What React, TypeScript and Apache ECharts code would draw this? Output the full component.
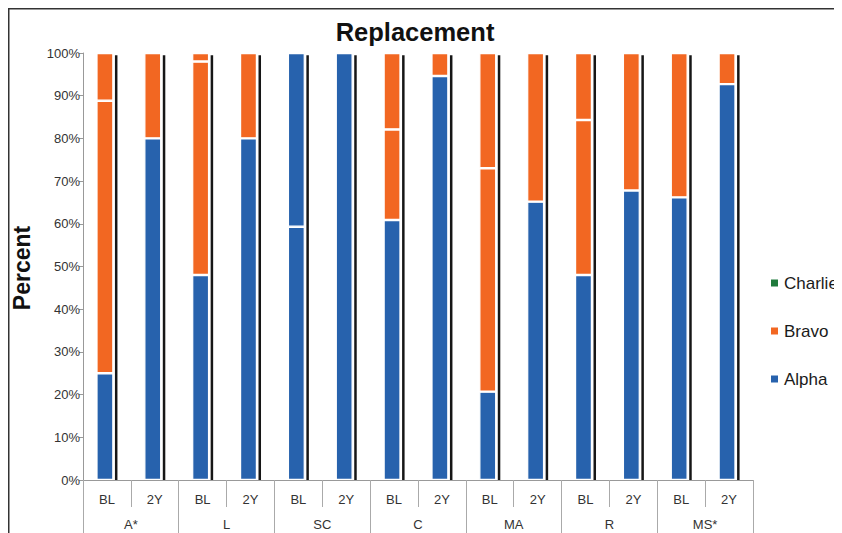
import React, { useEffect, useRef } from "react";
import * as echarts from "echarts";

const barLabels = ["BL", "2Y", "BL", "2Y", "BL", "2Y", "BL", "2Y", "BL", "2Y", "BL", "2Y", "BL", "2Y"];
const groupLabels = ["A*", "L", "SC", "C", "MA", "R", "MS*"];
const yTicks = [0, 10, 20, 30, 40, 50, 60, 70, 80, 90, 100];

// stacked segments, bottom to top (percent)
const alphaLower = [25, 80, 48, 80, 59.3, 100, 60.9, 94.6, 20.7, 65.2, 48, 67.8, 66.2, 92.7];
const alphaUpper = [0, 0, 0, 0, 40.7, 0, 0, 0, 0, 0, 0, 0, 0, 0];
const bravoLower = [63.8, 20, 50, 20, 0, 0, 21.2, 5.4, 52.3, 34.8, 36.3, 32.2, 33.8, 7.3];
const bravoUpper = [11.2, 0, 2, 0, 0, 0, 17.9, 0, 27, 0, 15.7, 0, 0, 0];
const charlie = [0, 0, 0, 0, 0, 0, 0, 0, 0, 0, 0, 0, 0, 0];
const shadowLine = [99.5, 99.5, 99.5, 99.5, 99.5, 99.5, 99.5, 99.5, 99.5, 99.5, 99.5, 99.5, 99.5, 99.5];

const BLUE = "#2762ad";
const ORANGE = "#f26722";
const GREEN = "#1f7a3c";
const FONT = "Liberation Sans, Arial, sans-serif";

export default function App() {
  const ref = useRef<HTMLDivElement>(null);
  useEffect(() => {
    if (!ref.current) return;
    const chart = echarts.init(ref.current, undefined, { renderer: "svg" });
    const seg = (name: string, data: number[], color: string) => ({
      name,
      type: "bar",
      stack: "total",
      barWidth: 17,
      barGap: "9%",
      data,
      itemStyle: { color, borderColor: "#ffffff", borderWidth: 1.2 },
      xAxisIndex: 0,
    });
    chart.setOption({
      animation: false,
      textStyle: { fontFamily: FONT },
      title: {
        text: "Replacement",
        left: 402,
        top: 6,
        textAlign: "center",
        textStyle: { fontSize: 25.5, fontWeight: "bold", color: "#111", fontFamily: FONT },
      },
      legend: {
        data: ["Charlie", "Bravo", "Alpha"],
        orient: "vertical",
        left: 761,
        top: 265,
        padding: 0,
        itemWidth: 9,
        itemHeight: 9,
        itemGap: 28,
        icon: "rect",
        textStyle: { fontSize: 17, color: "#1a1a1a", lineHeight: 20, fontFamily: FONT },
      },
      grid: { left: 75, top: 45, width: 670, height: 427, containLabel: false },
      xAxis: [
        {
          type: "category",
          data: barLabels,
          position: "bottom",
          axisLine: { show: true, lineStyle: { color: "#999", width: 1 } },
          axisTick: { show: true, interval: 0, length: 27, lineStyle: { color: "#aaa" } },
          axisLabel: { interval: 0, margin: 13, fontSize: 13, color: "#333", fontFamily: FONT },
        },
        {
          type: "category",
          data: groupLabels,
          position: "bottom",
          offset: 0,
          axisLine: { show: false },
          axisTick: { show: true, interval: 0, length: 60, lineStyle: { color: "#aaa" } },
          axisLabel: { interval: 0, margin: 38, fontSize: 13, color: "#333", fontFamily: FONT },
        },
      ],
      yAxis: {
        type: "value",
        min: yTicks[0],
        max: yTicks[yTicks.length - 1],
        interval: 10,
        axisLine: { show: true, lineStyle: { color: "#999" } },
        axisTick: { show: true, length: 4, lineStyle: { color: "#999" } },
        splitLine: { show: false },
        axisLabel: { formatter: "{value}%", fontSize: 13, color: "#333", margin: 3, fontFamily: FONT },
      },
      series: [
        seg("Alpha", alphaLower, BLUE),
        seg("Alpha upper", alphaUpper, BLUE),
        seg("Bravo", bravoLower, ORANGE),
        seg("Bravo upper", bravoUpper, ORANGE),
        seg("Charlie", charlie, GREEN),
        {
          name: "edge",
          type: "bar",
          barWidth: 2.5,
          barGap: "9%",
          data: shadowLine,
          itemStyle: { color: "#161616" },
          xAxisIndex: 0,
          silent: true,
        },
      ],
      graphic: [
        {
          type: "text",
          x: 14,
          y: 260,
          rotation: Math.PI / 2,
          style: {
            text: "Percent",
            fontSize: 23,
            fontWeight: "bold",
            fill: "#111",
            fontFamily: FONT,
            textAlign: "center",
            textVerticalAlign: "middle",
          },
        },
        { type: "line", shape: { x1: 0.75, y1: 0, x2: 0.75, y2: 525 }, style: { stroke: "#333", lineWidth: 1.5 } },
        { type: "line", shape: { x1: 0, y1: 0.75, x2: 834, y2: 0.75 }, style: { stroke: "#333", lineWidth: 1.5 } },
      ],
    });
    return () => chart.dispose();
  }, []);
  return <div ref={ref} style={{ width: 834, height: 525 }} />;
}
